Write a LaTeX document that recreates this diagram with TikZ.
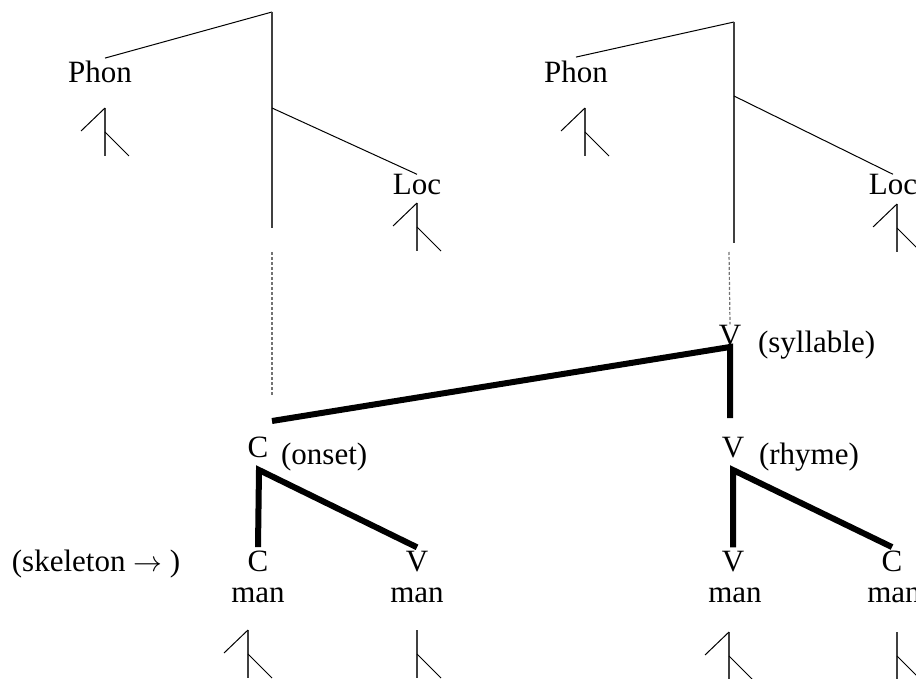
\documentclass[tikz,border=0pt]{standalone}
\usepackage{fontspec}
\setmainfont{Liberation Serif}
\usetikzlibrary{positioning}
\tikzset{
    lbl/.style={
        inner sep=0pt,anchor=base,font=\fontsize{15.5}{18}\selectfont
    },
    note/.style={
        inner sep=0pt,anchor=base west,font=\fontsize{15.5}{18}\selectfont
    },
    branch/.style={line width=0.5pt,draw=black},
    stem/.style={line width=0.6pt,draw=black!75},
    link/.style={line width=0.6pt,draw=black!55,dash pattern=on 1.5pt off 1pt},
    heavy/.style={line width=3pt,draw=black},
    featfull/.pic={
        \draw[stem] (0,0) -- (0,48);
        \draw[branch] (-24,23) -- (0,0);
        \draw[branch] (0,24) -- (24,48);
    },
    feathalf/.pic={
        \draw[stem] (0,0) -- (0,48);
        \draw[branch] (0,24) -- (24,48);
    }
}

\begin{document}
\begin{tikzpicture}[x=0.5pt,y=-0.5pt]

\useasboundingbox (0,0) rectangle (916,679);
\clip (0,0) rectangle (916,679);

% feature geometry, left segment
\node[lbl] (phonA) at (100,83) {Phon};
\node[lbl] (locA) at (417,195) {Loc};
\coordinate (topA) at (272,12);
\coordinate (forkA) at (272,108);
\coordinate (endA) at (272,228);
\coordinate (dashA) at (272,252);
\coordinate (onsetTop) at (272,421);

\draw[branch] ([xshift=2.5pt,yshift=1.5pt]phonA.north) -- (topA);
\draw[stem] (topA) -- (endA);
\draw[branch] (forkA) -- (locA.north);
\draw[link] (dashA) -- ([yshift=13pt]onsetTop);
\pic at (105,108) {featfull};
\pic at (417,203) {featfull};

% feature geometry, right segment
\node[lbl] (phonB) at (576,83) {Phon};
\node[lbl] (locB) at (893,195) {Loc};
\coordinate (topB) at (734,22);
\coordinate (forkB) at (734,96);
\coordinate (endB) at (734,243);
\coordinate (dashB) at (729,252);

\draw[branch] ([yshift=2pt]phonB.north) -- (topB);
\draw[stem] (topB) -- (endB);
\draw[branch] (forkB) -- (locB.north);
\pic at (585,108) {featfull};
\pic at (897,204) {featfull};

% prosodic structure
\node[lbl] (sylV) at (730,345) {V};
\node[note,right=8pt of sylV.base east] (sylT) {(syllable)};
\draw[link] (dashB) -- (sylV.north);

\node[lbl] (onsC) at (258,457) {C};
\node[note,right=6pt of onsC.base east] (onsT) {(onset)};
\node[lbl] (rhyV) at (733,457) {V};
\node[note,right=7pt of rhyV.base east] (rhyT) {(rhyme)};

\coordinate (sylTop) at (730,347);
\coordinate (rhyTop) at (730,418);
\draw[heavy] (onsetTop) -- (sylTop) -- (rhyTop);

% skeleton
\node[lbl] (skel) at (96,571) {(skeleton $\rightarrow$ )};
\node[lbl] (skC1) at (258,571) {C};
\node[lbl] (skV1) at (417,571) {V};
\node[lbl] (skV2) at (733,571) {V};
\node[lbl] (skC2) at (892,571) {C};
\node[lbl] (man1) at (258,602) {man};
\node[lbl] (man2) at (417,602) {man};
\node[lbl] (man3) at (735,602) {man};
\node[lbl] (man4) at (894,602) {man};

\coordinate (onsFork) at (259,470);
\coordinate (rhyFork) at (733,470);
\draw[heavy] ([yshift=1.5pt]skC1.north) -- (onsFork) -- ([yshift=1.5pt]skV1.north);
\draw[heavy] ([yshift=1.5pt]skV2.north) -- (rhyFork) -- ([yshift=1.5pt]skC2.north);

\pic at (248,630) {featfull};
\pic at (417,630) {feathalf};
\pic at (729,632) {featfull};
\pic at (897,632) {feathalf};

\end{tikzpicture}
\end{document}
